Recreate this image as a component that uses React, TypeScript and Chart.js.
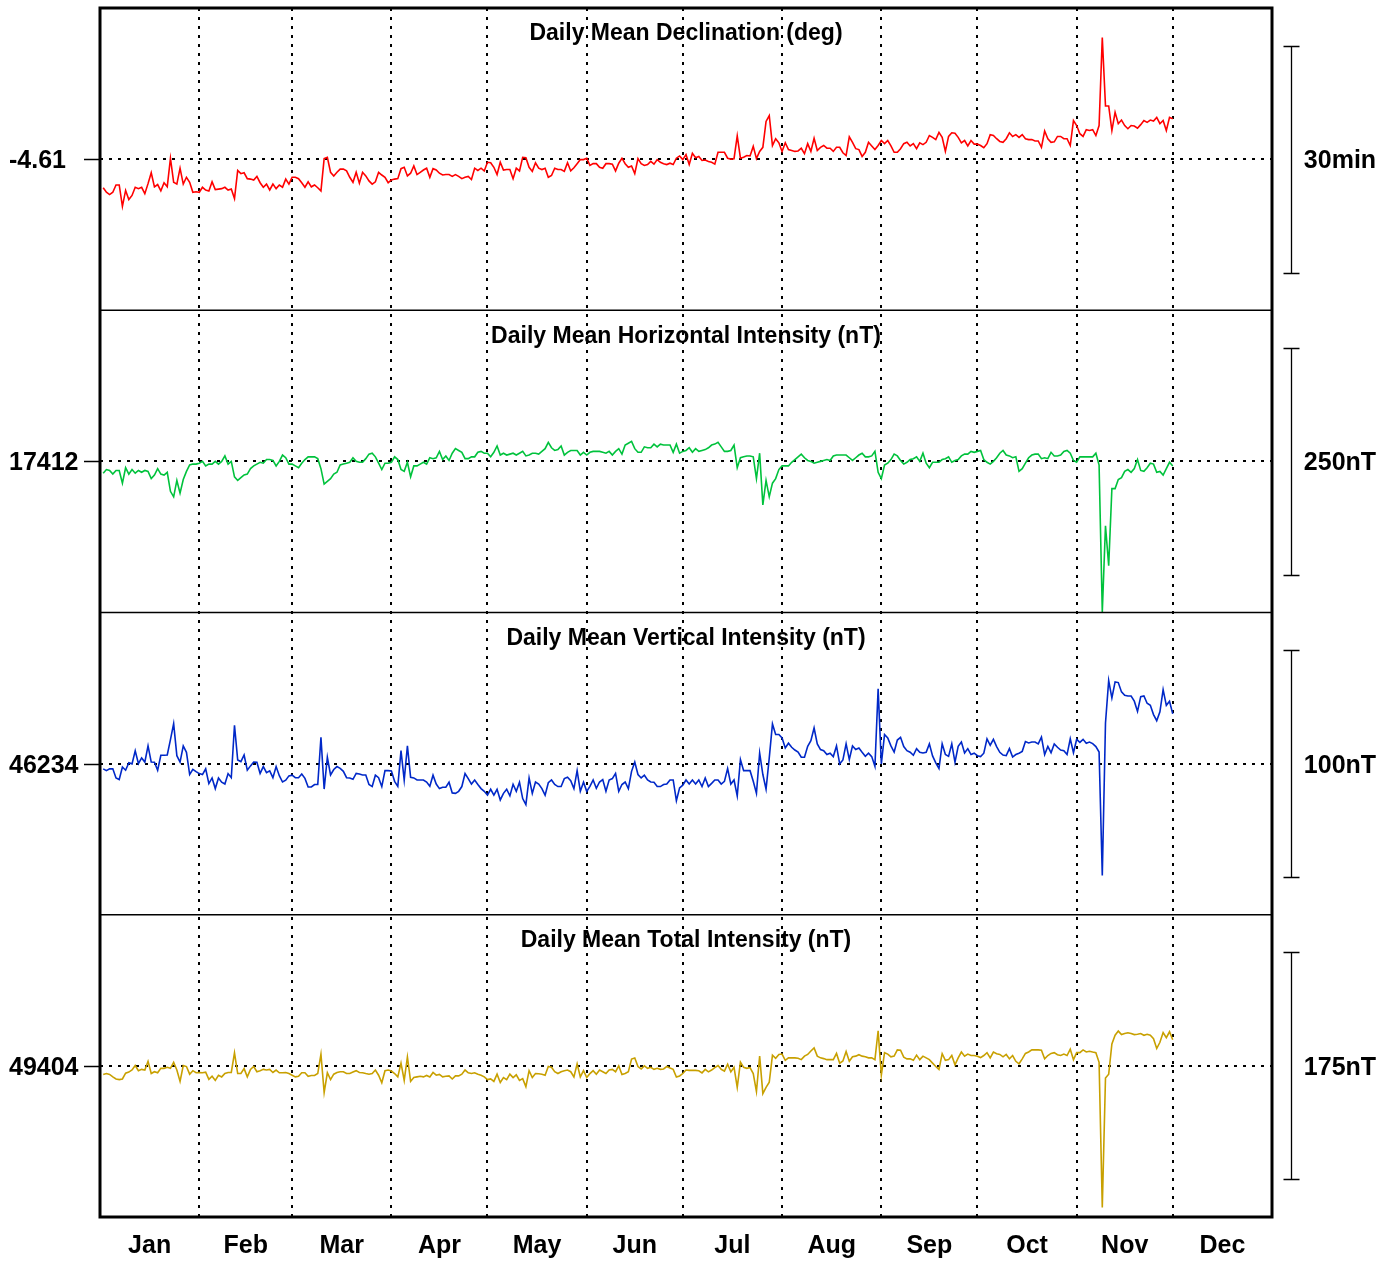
import React, { useEffect, useRef } from "react";
import { Chart, registerables } from "chart.js";

Chart.register(...registerables);

// ---------------- DATA ----------------
const monthLabels = ["Jan", "Feb", "Mar", "Apr", "May", "Jun", "Jul", "Aug", "Sep", "Oct", "Nov", "Dec"];
// day-of-year boundaries (leap year), 0 = start of Jan 1
const monthStarts = [0, 31, 60, 91, 121, 152, 182, 213, 244, 274, 305, 335, 366];
const firstDay = 1;

const panelTitles = [
  "Daily Mean Declination (deg)",
  "Daily Mean Horizontal Intensity (nT)",
  "Daily Mean Vertical Intensity (nT)",
  "Daily Mean Total Intensity (nT)",
];
const baselines = [-4.61, 17412, 46234, 49404];
const baselineLabels = ["-4.61", "17412", "46234", "49404"];
const scaleBarSpans = [0.5, 250, 100, 175];
const scaleBarLabels = ["30min", "250nT", "100nT", "175nT"];

const declination = [
  -4.673, -4.683, -4.688, -4.683, -4.667, -4.667, -4.714, -4.679, -4.699, -4.690,
  -4.672, -4.675, -4.672, -4.686, -4.664, -4.640, -4.671, -4.666, -4.680, -4.662,
  -4.671, -4.608, -4.661, -4.665, -4.630, -4.665, -4.650, -4.661, -4.683, -4.682,
  -4.683, -4.672, -4.678, -4.680, -4.660, -4.677, -4.676, -4.675, -4.672, -4.678,
  -4.676, -4.697, -4.635, -4.642, -4.640, -4.653, -4.654, -4.656, -4.648, -4.662,
  -4.672, -4.665, -4.678, -4.665, -4.675, -4.667, -4.672, -4.654, -4.665, -4.650,
  -4.650, -4.653, -4.662, -4.672, -4.660, -4.671, -4.667, -4.673, -4.680, -4.609,
  -4.606, -4.639, -4.647, -4.639, -4.632, -4.632, -4.636, -4.650, -4.661, -4.639,
  -4.663, -4.639, -4.647, -4.658, -4.665, -4.660, -4.639, -4.645, -4.650, -4.662,
  -4.656, -4.654, -4.653, -4.631, -4.628, -4.647, -4.641, -4.625, -4.644, -4.639,
  -4.634, -4.630, -4.650, -4.631, -4.634, -4.641, -4.645, -4.644, -4.644, -4.648,
  -4.644, -4.648, -4.653, -4.650, -4.648, -4.655, -4.630, -4.635, -4.630, -4.636,
  -4.617, -4.618, -4.628, -4.644, -4.617, -4.634, -4.633, -4.633, -4.653, -4.630,
  -4.636, -4.606, -4.607, -4.628, -4.637, -4.618, -4.630, -4.633, -4.630, -4.650,
  -4.646, -4.630, -4.633, -4.633, -4.637, -4.618, -4.636, -4.629, -4.620, -4.611,
  -4.611, -4.608, -4.624, -4.620, -4.620, -4.628, -4.630, -4.620, -4.620, -4.621,
  -4.636, -4.619, -4.608, -4.620, -4.628, -4.625, -4.642, -4.609, -4.620, -4.624,
  -4.622, -4.615, -4.621, -4.611, -4.617, -4.620, -4.622, -4.619, -4.622, -4.608,
  -4.603, -4.611, -4.600, -4.622, -4.597, -4.607, -4.604, -4.613, -4.612, -4.615,
  -4.617, -4.621, -4.595, -4.595, -4.595, -4.608, -4.610, -4.609, -4.559, -4.608,
  -4.606, -4.602, -4.603, -4.582, -4.609, -4.593, -4.584, -4.527, -4.514, -4.580,
  -4.565, -4.574, -4.593, -4.574, -4.589, -4.591, -4.593, -4.592, -4.586, -4.598,
  -4.576, -4.593, -4.564, -4.591, -4.584, -4.580, -4.586, -4.586, -4.593, -4.584,
  -4.584, -4.596, -4.602, -4.561, -4.573, -4.587, -4.589, -4.604, -4.595, -4.573,
  -4.581, -4.589, -4.580, -4.569, -4.576, -4.569, -4.581, -4.595, -4.595, -4.587,
  -4.576, -4.573, -4.581, -4.576, -4.587, -4.574, -4.578, -4.573, -4.558, -4.562,
  -4.567, -4.551, -4.562, -4.593, -4.560, -4.552, -4.553, -4.562, -4.574, -4.569,
  -4.581, -4.569, -4.577, -4.577, -4.580, -4.585, -4.576, -4.556, -4.558, -4.565,
  -4.571, -4.573, -4.565, -4.552, -4.560, -4.556, -4.562, -4.556, -4.565, -4.567,
  -4.567, -4.570, -4.570, -4.584, -4.548, -4.565, -4.573, -4.572, -4.560, -4.560,
  -4.565, -4.565, -4.580, -4.525, -4.536, -4.554, -4.560, -4.545, -4.547, -4.545,
  -4.558, -4.536, -4.342, -4.493, -4.493, -4.547, -4.507, -4.532, -4.524, -4.536,
  -4.543, -4.536, -4.537, -4.542, -4.534, -4.525, -4.529, -4.524, -4.526, -4.518,
  -4.532, -4.525, -4.547, -4.518, -4.521,
];

const horizontal = [
  17399, 17403, 17402, 17398, 17402, 17402, 17388, 17405, 17398, 17403,
  17399, 17402, 17400, 17402, 17401, 17393, 17397, 17404, 17398, 17397,
  17400, 17379, 17373, 17391, 17377, 17392, 17401, 17408, 17409, 17409,
  17410, 17412, 17407, 17409, 17409, 17412, 17409, 17412, 17418, 17409,
  17412, 17395, 17391, 17394, 17397, 17398, 17404, 17407, 17409, 17411,
  17410, 17414, 17414, 17413, 17407, 17412, 17419, 17416, 17409, 17409,
  17407, 17405, 17410, 17414, 17417, 17417, 17417, 17415, 17404, 17387,
  17390, 17393, 17398, 17400, 17408, 17409, 17410, 17411, 17416, 17412,
  17411, 17411, 17415, 17420, 17421, 17417, 17410, 17403, 17410, 17410,
  17411, 17417, 17414, 17403, 17401, 17411, 17395, 17407, 17407, 17409,
  17411, 17409, 17416, 17415, 17416, 17423, 17414, 17418, 17413, 17421,
  17426, 17424, 17422, 17415, 17415, 17417, 17417, 17422, 17423, 17421,
  17421, 17417, 17422, 17429, 17419, 17421, 17419, 17420, 17421, 17419,
  17421, 17423, 17418, 17419, 17421, 17421, 17420, 17423, 17426, 17433,
  17427, 17424, 17425, 17429, 17419, 17422, 17424, 17424, 17424, 17419,
  17422, 17419, 17422, 17423, 17423, 17423, 17422, 17421, 17423, 17419,
  17423, 17426, 17420, 17430, 17432, 17434, 17426, 17422, 17422, 17428,
  17427, 17427, 17431, 17428, 17431, 17430, 17430, 17430, 17422, 17431,
  17421, 17423, 17424, 17427, 17422, 17426, 17423, 17424, 17425, 17427,
  17430, 17431, 17433, 17428, 17423, 17423, 17424, 17430, 17405, 17416,
  17417, 17418, 17418, 17417, 17393, 17421, 17364, 17391, 17373, 17388,
  17393, 17403, 17407, 17407, 17407, 17411, 17414, 17417, 17420, 17416,
  17413, 17412, 17410, 17411, 17412, 17413, 17414, 17413, 17418, 17419,
  17419, 17419, 17419, 17416, 17413, 17416, 17419, 17421, 17417, 17417,
  17418, 17423, 17400, 17393, 17408, 17410, 17414, 17420, 17418, 17413,
  17409, 17411, 17414, 17415, 17417, 17412, 17421, 17410, 17405, 17411,
  17411, 17411, 17414, 17415, 17417, 17411, 17413, 17414, 17418, 17420,
  17420, 17423, 17422, 17423, 17424, 17414, 17411, 17409, 17412, 17416,
  17421, 17424, 17419, 17418, 17416, 17417, 17401, 17404, 17410, 17416,
  17419, 17420, 17420, 17415, 17416, 17415, 17422, 17418, 17418, 17419,
  17423, 17424, 17421, 17413, 17411, 17417, 17417, 17417, 17417, 17417,
  17421, 17408, 17246, 17341, 17297, 17382, 17382, 17392, 17394, 17401,
  17403, 17400, 17404, 17414, 17402, 17401, 17405, 17410, 17409, 17400,
  17401, 17397, 17404, 17411, 17407,
];

const vertical = [
  46231.7, 46230.9, 46231.7, 46231.7, 46227.7, 46227.0, 46232.5, 46231.1, 46234.4, 46233.9,
  46239.6, 46234.0, 46236.5, 46234.7, 46241.8, 46234.7, 46234.6, 46231.1, 46237.7, 46237.7,
  46237.8, 46244.6, 46251.6, 46237.5, 46234.7, 46241.8, 46239.0, 46229.2, 46231.5, 46230.5,
  46229.6, 46229.2, 46231.7, 46225.2, 46227.7, 46223.0, 46227.7, 46225.8, 46225.0, 46229.6,
  46227.8, 46250.9, 46235.6, 46234.9, 46237.8, 46231.1, 46233.0, 46234.7, 46234.6, 46229.7,
  46232.7, 46230.0, 46230.8, 46227.8, 46232.7, 46228.7, 46225.9, 46226.7, 46228.6, 46228.9,
  46227.8, 46227.8, 46229.4, 46227.5, 46223.7, 46223.7, 46224.8, 46224.8, 46245.6, 46222.8,
  46236.8, 46229.0, 46231.4, 46232.7, 46231.9, 46230.6, 46227.8, 46227.7, 46227.1, 46229.7,
  46229.4, 46229.0, 46229.0, 46224.8, 46223.9, 46228.9, 46227.8, 46223.9, 46230.9, 46230.9,
  46230.8, 46226.2, 46224.0, 46239.7, 46226.8, 46241.8, 46228.0, 46227.7, 46226.8, 46226.8,
  46226.8, 46225.9, 46224.0, 46228.9, 46225.0, 46223.0, 46223.6, 46223.6, 46225.8, 46221.1,
  46220.9, 46221.8, 46223.9, 46229.6, 46227.4, 46225.0, 46226.8, 46224.8, 46223.0, 46221.8,
  46220.1, 46222.7, 46220.1, 46222.7, 46218.0, 46220.9, 46222.7, 46219.8, 46224.9, 46221.8,
  46225.8, 46218.6, 46215.9, 46227.7, 46220.9, 46225.9, 46225.0, 46223.0, 46220.1, 46225.6,
  46226.8, 46224.8, 46223.9, 46223.9, 46227.4, 46228.0, 46226.5, 46223.0, 46230.9, 46221.8,
  46225.8, 46221.8, 46224.0, 46226.8, 46223.1, 46225.9, 46227.0, 46221.8, 46226.8, 46227.4,
  46229.7, 46221.8, 46224.8, 46225.9, 46223.0, 46230.6, 46234.7, 46229.2, 46227.7, 46228.9,
  46226.8, 46225.9, 46225.8, 46223.9, 46223.9, 46224.8, 46225.0, 46226.8, 46226.8, 46217.7,
  46223.3, 46224.5, 46226.8, 46225.0, 46226.8, 46225.0, 46226.8, 46223.9, 46227.7, 46223.9,
  46225.3, 46226.8, 46226.8, 46225.0, 46226.2, 46231.8, 46225.0, 46226.8, 46219.8, 46235.8,
  46230.9, 46230.9, 46230.9, 46226.2, 46220.9, 46238.7, 46229.2, 46222.7, 46236.5, 46251.5,
  46246.8, 46246.8, 46245.3, 46240.9, 46243.0, 46241.2, 46240.0, 46239.1, 46236.8, 46236.8,
  46241.6, 46244.1, 46249.7, 46242.7, 46240.2, 46239.7, 46238.0, 46238.6, 46237.1, 46241.8,
  46233.9, 46235.6, 46242.7, 46235.8, 46241.8, 46240.2, 46240.9, 46239.0, 46237.2, 46238.6,
  46237.1, 46232.8, 46267.0, 46233.9, 46246.8, 46245.3, 46241.8, 46239.1, 46244.4, 46245.6,
  46241.5, 46239.7, 46239.0, 46237.7, 46240.6, 46239.0, 46238.7, 46239.0, 46242.7, 46237.4,
  46234.3, 46231.8, 46242.7, 46238.0, 46237.2, 46242.7, 46234.6, 46241.6, 46243.5, 46238.7,
  46240.6, 46238.0, 46238.6, 46237.5, 46237.1, 46238.6, 46244.9, 46242.1, 46244.7, 46241.5,
  46239.0, 46237.8, 46237.5, 46240.6, 46236.9, 46238.0, 46238.6, 46239.4, 46243.7, 46243.1,
  46243.5, 46243.5, 46242.7, 46245.7, 46238.0, 46241.6, 46238.8, 46242.7, 46241.2, 46240.0,
  46239.7, 46238.0, 46244.9, 46238.8, 46244.7, 46243.4, 46244.7, 46243.0, 46243.5, 46242.8,
  46241.5, 46239.1, 46184.7, 46251.9, 46270.6, 46262.9, 46270.0, 46269.7, 46265.6, 46264.1,
  46263.8, 46263.8, 46261.5, 46257.0, 46263.5, 46263.8, 46260.6, 46259.7, 46255.6, 46252.9,
  46256.8, 46266.6, 46259.7, 46261.5, 46255.9,
];

const total = [
  49397.4, 49398.1, 49397.4, 49395.5, 49393.9, 49393.4, 49393.9, 49398.4, 49399.2, 49400.8,
  49404.3, 49400.3, 49401.3, 49400.8, 49407.5, 49398.1, 49399.5, 49398.7, 49402.1, 49402.1,
  49402.9, 49402.1, 49406.7, 49400.8, 49392.0, 49404.3, 49403.5, 49397.6, 49400.3, 49398.7,
  49398.9, 49398.7, 49399.2, 49393.6, 49396.0, 49392.8, 49396.8, 49395.5, 49398.1, 49398.9,
  49398.9, 49414.1, 49398.1, 49398.1, 49401.9, 49395.5, 49401.3, 49403.5, 49399.5, 49400.3,
  49401.3, 49400.8, 49401.3, 49398.9, 49400.8, 49398.7, 49398.7, 49398.9, 49398.1, 49396.8,
  49395.5, 49396.0, 49398.7, 49398.7, 49396.0, 49396.6, 49396.6, 49398.1, 49413.0, 49383.5,
  49398.7, 49393.4, 49397.6, 49398.9, 49399.5, 49399.5, 49398.1, 49398.1, 49399.2, 49400.3,
  49398.9, 49398.7, 49398.1, 49397.6, 49398.1, 49400.8, 49396.8, 49391.0, 49400.3, 49400.8,
  49400.0, 49398.1, 49395.5, 49406.1, 49392.8, 49410.9, 49392.0, 49395.0, 49395.5, 49396.0,
  49395.5, 49396.6, 49395.5, 49398.9, 49396.8, 49397.4, 49395.5, 49396.0, 49396.3, 49393.9,
  49396.3, 49396.3, 49397.6, 49400.8, 49398.7, 49398.1, 49398.7, 49397.6, 49396.8, 49395.5,
  49393.4, 49393.9, 49392.0, 49397.6, 49391.2, 49395.0, 49393.4, 49397.6, 49395.0, 49397.1,
  49392.8, 49394.2, 49388.0, 49400.3, 49395.0, 49398.1, 49397.9, 49397.6, 49396.8, 49403.5,
  49402.9, 49399.5, 49398.1, 49399.5, 49400.3, 49400.8, 49399.5, 49395.5, 49405.6, 49395.5,
  49400.3, 49395.0, 49398.1, 49400.3, 49397.6, 49400.8, 49399.5, 49398.1, 49400.8, 49401.3,
  49399.5, 49404.0, 49397.4, 49398.1, 49399.5, 49409.3, 49410.1, 49403.5, 49401.6, 49404.0,
  49402.1, 49402.9, 49401.3, 49402.1, 49401.3, 49401.6, 49403.5, 49402.4, 49401.3, 49395.4,
  49396.2, 49398.1, 49400.8, 49400.5, 49400.5, 49400.5, 49400.2, 49398.6, 49401.3, 49399.4,
  49400.8, 49402.7, 49404.3, 49401.3, 49400.0, 49405.3, 49399.4, 49402.9, 49387.4, 49406.9,
  49402.9, 49402.1, 49402.7, 49398.1, 49384.2, 49411.5, 49382.6, 49387.4, 49391.4, 49412.3,
  49409.9, 49412.8, 49413.1, 49408.3, 49410.2, 49410.2, 49410.2, 49409.9, 49408.8, 49411.5,
  49412.8, 49415.5, 49417.9, 49411.5, 49410.2, 49409.6, 49408.8, 49408.8, 49408.8, 49413.6,
  49406.1, 49407.8, 49415.0, 49407.5, 49411.0, 49411.5, 49412.6, 49411.5, 49411.0, 49410.2,
  49410.2, 49408.8, 49431.1, 49396.8, 49414.2, 49413.1, 49411.0, 49411.5, 49416.3, 49416.1,
  49410.7, 49409.4, 49409.4, 49408.3, 49412.3, 49408.8, 49411.5, 49410.2, 49408.8, 49406.1,
  49403.5, 49401.3, 49413.4, 49408.3, 49408.8, 49412.0, 49404.8, 49410.2, 49414.7, 49411.5,
  49413.1, 49412.0, 49412.0, 49411.5, 49410.4, 49412.0, 49414.2, 49410.2, 49414.7, 49413.4,
  49412.8, 49411.0, 49412.8, 49409.4, 49412.0, 49407.5, 49405.6, 49409.4, 49413.6, 49414.7,
  49416.3, 49416.3, 49416.3, 49416.1, 49409.4, 49412.0, 49413.6, 49414.2, 49412.6, 49412.0,
  49413.1, 49412.0, 49416.9, 49408.8, 49414.2, 49414.2, 49416.3, 49414.7, 49415.3, 49414.7,
  49414.2, 49406.7, 49294.9, 49394.6, 49397.6, 49420.9, 49427.6, 49430.8, 49428.1, 49428.9,
  49429.5, 49428.9, 49428.1, 49428.4, 49428.9, 49427.6, 49428.4, 49427.6, 49424.9, 49417.4,
  49422.2, 49429.7, 49425.7, 49430.3, 49424.1,
];

// ---------------- STYLE / LAYOUT ----------------
const seriesList = [declination, horizontal, vertical, total];
const seriesColors = ["#ff0000", "#00c23c", "#0028c8", "#c8a000"];
const FONT = '"Liberation Sans", Arial, Helvetica, sans-serif';
const SCALE_BAR_FRACTION = 0.751; // scale bar length relative to panel height

const toPoints = (arr: number[]) => arr.map((v, i) => ({ x: firstDay + i, y: v }));

const decorPlugin = {
  id: "decor",
  beforeDatasetsDraw(chart: any) {
    const { ctx, chartArea: a, scales } = chart;
    const xs = scales.x;
    ctx.save();
    ctx.strokeStyle = "#000";
    ctx.lineWidth = 2;
    ctx.setLineDash([3, 6]);
    for (let i = 1; i < monthStarts.length - 1; i++) {
      const px = Math.round(xs.getPixelForValue(monthStarts[i]));
      ctx.beginPath();
      ctx.moveTo(px, a.top);
      ctx.lineTo(px, a.bottom);
      ctx.stroke();
    }
    for (let k = 0; k < 4; k++) {
      const ys = scales["y" + k];
      const py = Math.round(ys.getPixelForValue(baselines[k]));
      ctx.beginPath();
      ctx.moveTo(a.left, py);
      ctx.lineTo(a.right, py);
      ctx.stroke();
    }
    ctx.restore();
  },
  afterDatasetsDraw(chart: any) {
    const { ctx, chartArea: a, scales } = chart;
    const xs = scales.x;
    ctx.save();
    ctx.setLineDash([]);
    ctx.strokeStyle = "#000";
    ctx.fillStyle = "#000";
    // panel separators
    ctx.lineWidth = 1.5;
    for (let k = 1; k < 4; k++) {
      const ys = scales["y" + k];
      ctx.beginPath();
      ctx.moveTo(a.left, ys.top);
      ctx.lineTo(a.right, ys.top);
      ctx.stroke();
    }
    // outer border
    ctx.lineWidth = 3;
    ctx.strokeRect(a.left, a.top, a.right - a.left, a.bottom - a.top);

    for (let k = 0; k < 4; k++) {
      const ys = scales["y" + k];
      const base = baselines[k];
      const py = ys.getPixelForValue(base);
      // title
      ctx.font = `bold 23px ${FONT}`;
      ctx.textAlign = "center";
      ctx.textBaseline = "middle";
      ctx.fillText(panelTitles[k], (a.left + a.right) / 2, ys.top + 26);
      // left label and tick
      ctx.font = `bold 25px ${FONT}`;
      ctx.textAlign = "left";
      ctx.fillText(baselineLabels[k], 9, py + 2);
      ctx.lineWidth = 1.5;
      ctx.beginPath();
      ctx.moveTo(a.left - 16, Math.round(py) + 0.5);
      ctx.lineTo(a.left, Math.round(py) + 0.5);
      ctx.stroke();
      // scale bar
      const half = scaleBarSpans[k] / 2;
      const y1 = Math.round(ys.getPixelForValue(base + half)) + 0.5;
      const y2 = Math.round(ys.getPixelForValue(base - half)) + 0.5;
      const bx = a.right + 19.5;
      ctx.lineWidth = 1.3;
      ctx.beginPath();
      ctx.moveTo(bx, y1);
      ctx.lineTo(bx, y2);
      ctx.moveTo(bx - 8, y1);
      ctx.lineTo(bx + 8, y1);
      ctx.moveTo(bx - 8, y2);
      ctx.lineTo(bx + 8, y2);
      ctx.stroke();
      ctx.font = `bold 25px ${FONT}`;
      ctx.textAlign = "center";
      ctx.fillText(scaleBarLabels[k], 1340, py + 2);
    }
    // month labels
    ctx.font = `bold 25px ${FONT}`;
    ctx.textAlign = "center";
    ctx.textBaseline = "middle";
    for (let i = 0; i < monthLabels.length; i++) {
      const cx = xs.getPixelForValue((monthStarts[i] + monthStarts[i + 1]) / 2);
      ctx.fillText(monthLabels[i], cx, a.bottom + 29);
    }
    ctx.restore();
  },
};

function yScale(k: number) {
  const half = scaleBarSpans[k] / 2 / SCALE_BAR_FRACTION;
  return {
    type: "linear" as const,
    position: "left" as const,
    stack: "panels",
    stackWeight: 1,
    display: false,
    min: baselines[k] - half,
    max: baselines[k] + half,
  };
}

export default function App() {
  const canvasRef = useRef<HTMLCanvasElement | null>(null);

  useEffect(() => {
    const canvas = canvasRef.current;
    if (!canvas) return;
    const chart = new Chart(canvas, {
      type: "line",
      data: {
        datasets: seriesList.map((s, k) => ({
          label: panelTitles[k],
          data: toPoints(s),
          yAxisID: "y" + k,
          borderColor: seriesColors[k],
          backgroundColor: seriesColors[k],
          borderWidth: 1.6,
          pointRadius: 0,
          tension: 0,
          fill: false,
        })),
      },
      options: {
        responsive: false,
        animation: false,
        devicePixelRatio: 1,
        layout: { padding: { left: 100, right: 120, top: 8, bottom: 44 } },
        plugins: { legend: { display: false }, tooltip: { enabled: false } },
        events: [],
        scales: {
          x: { type: "linear", min: 0, max: 366, display: false },
          y3: yScale(3),
          y2: yScale(2),
          y1: yScale(1),
          y0: yScale(0),
        },
      },
      plugins: [decorPlugin],
    });
    return () => chart.destroy();
  }, []);

  return (
    <div style={{ position: "absolute", left: 0, top: 0, width: 1392, height: 1261, background: "#fff" }}>
      <canvas ref={canvasRef} width={1392} height={1261} style={{ display: "block" }} />
    </div>
  );
}
